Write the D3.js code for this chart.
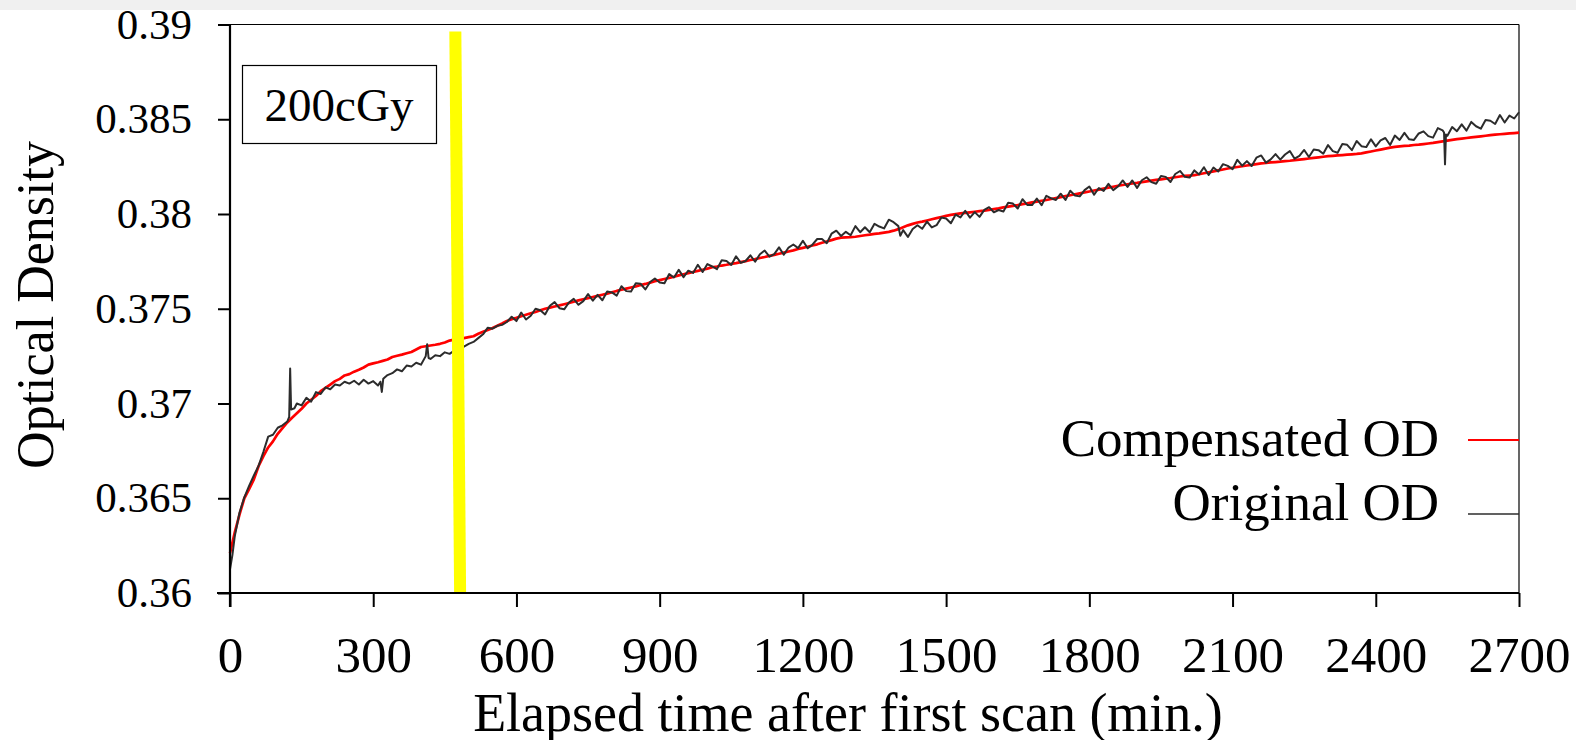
<!DOCTYPE html>
<html>
<head>
<meta charset="utf-8">
<script src="https://cdn.jsdelivr.net/npm/d3@7"></script>
<style>
  html, body { margin: 0; padding: 0; background: #fff; }
  svg { display: block; }
  text { font-family: "Liberation Serif", "Times New Roman", serif; fill: #000; }
</style>
</head>
<body>
<svg id="chart" width="1576" height="740"></svg>
<script>
// ---------------- data ----------------
const xTicks = [0, 300, 600, 900, 1200, 1500, 1800, 2100, 2400, 2700];
const yTicks = [0.36, 0.365, 0.37, 0.375, 0.38, 0.385, 0.39];
const yTickLabels = ["0.36", "0.365", "0.37", "0.375", "0.38", "0.385", "0.39"];
const seriesNames = ["Compensated OD", "Original OD"];
const doseLabel = "200cGy";
const xTitle = "Elapsed time after first scan (min.)";
const yTitle = "Optical Density";

// Compensated OD, one reading every 10 min from 0 to 2700 min
const compensatedStep = 10;
const compensatedOD = [
  .36210,.36320,.36415,.36500,.36548,.36600,.36670,.36722,.36768,.36800,
  .36840,.36870,.36900,.36925,.36948,.36972,.37000,.37020,.37040,.37065,
  .37082,.37100,.37118,.37130,.37148,.37155,.37168,.37178,.37190,.37205,
  .37212,.37218,.37225,.37232,.37245,.37252,.37258,.37265,.37272,.37285,
  .37298,.37302,.37306,.37310,.37315,.37322,.37332,.37338,.37340,.37345,
  .37350,.37355,.37368,.37378,.37388,.37398,.37410,.37422,.37435,.37445,
  .37452,.37460,.37468,.37476,.37483,.37492,.37500,.37506,.37512,.37518,
  .37524,.37530,.37537,.37544,.37550,.37556,.37562,.37568,.37574,.37580,
  .37587,.37594,.37600,.37606,.37612,.37618,.37625,.37631,.37638,.37645,
  .37651,.37657,.37663,.37669,.37676,.37682,.37688,.37694,.37700,.37706,
  .37712,.37719,.37723,.37728,.37732,.37737,.37741,.37746,.37751,.37757,
  .37762,.37768,.37773,.37779,.37784,.37790,.37796,.37802,.37808,.37815,
  .37821,.37827,.37834,.37840,.37848,.37855,.37862,.37870,.37875,.37877,
  .37878,.37880,.37884,.37888,.37891,.37895,.37898,.37902,.37906,.37912,
  .37920,.37930,.37940,.37948,.37955,.37960,.37966,.37972,.37978,.37984,
  .37990,.37995,.37999,.38003,.38006,.38009,.38012,.38015,.38018,.38022,
  .38026,.38030,.38035,.38039,.38043,.38047,.38052,.38056,.38061,.38065,
  .38070,.38074,.38079,.38084,.38089,.38094,.38099,.38104,.38109,.38114,
  .38119,.38124,.38129,.38134,.38139,.38144,.38149,.38153,.38157,.38161,
  .38164,.38168,.38172,.38176,.38180,.38183,.38187,.38190,.38194,.38198,
  .38201,.38203,.38205,.38210,.38215,.38220,.38225,.38230,.38235,.38240,
  .38244,.38248,.38252,.38256,.38259,.38263,.38267,.38269,.38272,.38274,
  .38276,.38279,.38281,.38284,.38287,.38290,.38293,.38296,.38299,.38302,
  .38305,.38307,.38309,.38311,.38313,.38315,.38317,.38320,.38325,.38330,
  .38335,.38340,.38345,.38350,.38354,.38357,.38359,.38361,.38364,.38366,
  .38369,.38372,.38375,.38379,.38383,.38387,.38391,.38395,.38398,.38401,
  .38404,.38407,.38410,.38413,.38416,.38419,.38421,.38423,.38425,.38427,
  .38429
];

// Original OD readings: [elapsed minutes, OD]
const originalOD = [
  [0,.36125],[5,.36200],[10,.36300],[20,.36425],[30,.36505],[40,.36565],[50,.36620],[60,.36672],
  [70,.36745],[80,.36825],[90,.36835],[100,.36872],[110,.36885],[120,.36905],[124,.36930],[126,.37185],
  [128,.36968],[135,.36975],[140,.37000],[150,.36990],[160,.37030],[170,.37010],[180,.37060],[190,.37050],
  [200,.37085],[210,.37075],[220,.37100],[230,.37095],[240,.37115],[250,.37105],[260,.37120],[270,.37100],
  [280,.37125],[290,.37105],[300,.37118],[310,.37095],[315,.37115],[318,.37061],[321,.37130],[330,.37150],
  [340,.37160],[350,.37180],[360,.37170],[370,.37200],[380,.37195],[390,.37215],[400,.37205],[410,.37250],
  [413,.37313],[416,.37240],[420,.37235],[430,.37255],[440,.37250],[450,.37270],[460,.37262],[470,.37280],
  [480,.37285],[490,.37300],[500,.37315],[510,.37325],[520,.37345],[530,.37365],[540,.37400],[550,.37395],
  [560,.37410],[570,.37415],[580,.37430],
  [590,.37458],[600,.37435],[610,.37480],[620,.37443],[630,.37463],[640,.37500],[650,.37492],[660,.37470],
  [670,.37516],[680,.37535],[690,.37503],[700,.37497],[710,.37533],[720,.37552],[730,.37521],[740,.37540],
  [750,.37577],[760,.37543],[770,.37573],[780,.37545],[790,.37591],[800,.37586],[810,.37569],[820,.37619],
  [830,.37593],[840,.37591],[850,.37635],[860,.37632],[870,.37602],[880,.37641],[890,.37660],[900,.37639],
  [910,.37635],[920,.37683],[930,.37665],[940,.37705],[950,.37667],[960,.37701],[970,.37689],[980,.37732],
  [990,.37694],[1000,.37736],[1010,.37723],[1020,.37709],[1030,.37756],[1040,.37752],[1050,.37731],[1060,.37777],
  [1070,.37742],[1080,.37752],[1090,.37782],[1100,.37748],[1110,.37788],[1120,.37807],[1130,.37775],[1140,.37788],
  [1150,.37824],[1160,.37785],[1170,.37823],[1180,.37839],[1190,.37820],[1200,.37859],[1210,.37819],[1220,.37838],
  [1230,.37868],[1240,.37868],[1250,.37846],[1260,.37896],[1270,.37912],[1280,.37884],[1290,.37906],[1300,.37888],
  [1310,.37936],[1320,.37904],[1330,.37930],[1340,.37904],[1350,.37948],[1360,.37934],[1370,.37924],[1380,.37970],
  [1390,.37957],[1400,.37936],[1404,.37885],[1410,.37915],[1420,.37879],[1430,.37921],[1440,.37941],[1450,.37922],
  [1460,.37960],[1470,.37929],[1480,.37941],[1490,.37981],[1500,.37976],[1510,.37951],[1520,.37997],[1530,.37982],
  [1540,.38017],[1550,.37981],[1560,.38010],[1570,.37985],[1580,.38022],[1590,.38036],[1600,.38009],[1610,.38021],
  [1620,.38013],[1630,.38059],[1640,.38055],[1650,.38029],[1660,.38078],[1670,.38048],[1680,.38047],[1690,.38081],
  [1700,.38046],[1710,.38096],[1720,.38083],[1730,.38074],[1740,.38107],[1750,.38074],[1760,.38123],[1770,.38098],
  [1780,.38093],[1790,.38126],[1800,.38145],[1810,.38102],[1820,.38137],[1830,.38122],[1840,.38159],[1850,.38126],
  [1860,.38145],[1870,.38177],[1880,.38143],[1890,.38177],[1900,.38138],[1910,.38178],[1920,.38194],[1930,.38168],
  [1940,.38160],[1950,.38201],[1960,.38196],[1970,.38169],[1980,.38211],[1990,.38227],[2000,.38196],[2010,.38192],
  [2020,.38230],[2030,.38209],[2040,.38247],[2050,.38206],[2060,.38245],[2070,.38224],[2080,.38263],[2090,.38254],
  [2100,.38236],[2110,.38286],[2120,.38255],[2130,.38279],[2140,.38253],[2150,.38297],[2160,.38309],[2170,.38271],
  [2180,.38288],[2190,.38316],[2200,.38287],[2210,.38314],[2220,.38332],[2230,.38292],[2240,.38307],[2250,.38338],
  [2260,.38301],[2270,.38340],[2280,.38337],[2290,.38318],[2300,.38364],[2310,.38332],[2320,.38323],[2330,.38369],
  [2340,.38365],[2350,.38337],[2360,.38385],[2370,.38358],[2380,.38353],[2390,.38394],[2400,.38357],[2410,.38388],
  [2420,.38401],[2430,.38364],[2440,.38414],[2450,.38391],[2460,.38428],[2470,.38394],[2480,.38391],[2490,.38425],
  [2500,.38436],[2510,.38411],[2520,.38403],[2530,.38453],[2540,.38441],[2543,.38430],[2545,.38262],[2547,.38420],
  [2550,.38413],[2560,.38459],[2570,.38437],[2580,.38473],[2590,.38440],[2600,.38486],[2610,.38463],[2620,.38450],
  [2630,.38496],[2640,.38492],[2650,.38475],[2660,.38522],[2670,.38483],[2680,.38519],[2690,.38504],[2700,.38537]
];

// yellow marker bar (minutes at top / bottom, OD at its top end)
const markerTimes = [472, 482];
const markerTopOD = 0.38963;

// ---------------- drawing ----------------
const svg = d3.select("#chart");
const x = d3.scaleLinear().domain([0, 2700]).range([230, 1519]);
const y = d3.scaleLinear().domain([0.36, 0.39]).range([593, 24.5]);

// plot frame (top, right)
svg.append("line").attr("x1", x(0)).attr("x2", x(2700)).attr("y1", y(0.39)).attr("y2", y(0.39))
  .attr("stroke", "#000").attr("stroke-width", 1.2);
svg.append("line").attr("x1", x(2700)).attr("x2", x(2700)).attr("y1", y(0.39)).attr("y2", y(0.36))
  .attr("stroke", "#000").attr("stroke-width", 1.2);

// series lines
const compData = compensatedOD.map((v, i) => [i * compensatedStep, v]);
const line = d3.line().x(d => x(d[0])).y(d => y(d[1]));
svg.append("path").datum(compData).attr("d", line)
  .attr("fill", "none").attr("stroke", "#ff0000").attr("stroke-width", 2.7).attr("stroke-linejoin", "round");
svg.append("path").datum(originalOD).attr("d", line)
  .attr("fill", "none").attr("stroke", "#2c2c2c").attr("stroke-width", 2).attr("stroke-linejoin", "round");

// yellow marker
svg.append("line")
  .attr("x1", x(markerTimes[0])).attr("y1", y(markerTopOD))
  .attr("x2", x(markerTimes[1])).attr("y2", y(0.36))
  .attr("stroke", "#ffff00").attr("stroke-width", 12);

// axes
const xAxis = d3.axisBottom(x).tickValues(xTicks).tickSize(14).tickFormat(d3.format("d"));
const gx = svg.append("g").attr("transform", `translate(0,${y(0.36)})`).call(xAxis);
gx.select(".domain").attr("stroke", "#000").attr("stroke-width", 2.2).attr("d", `M${x(0) - 13},0H${x(2700)}`);
gx.selectAll(".tick line").attr("stroke", "#000").attr("stroke-width", 2);
gx.selectAll(".tick text").attr("y", 79).attr("dy", null)
  .style("font-family", '"Liberation Serif", "Times New Roman", serif').style("font-size", "51px").attr("fill", "#000");

const yAxis = d3.axisLeft(y).tickValues(yTicks).tickSize(12).tickFormat((d, i) => yTickLabels[i]);
const gy = svg.append("g").attr("transform", `translate(${x(0)},0)`).call(yAxis);
gy.select(".domain").attr("stroke", "#000").attr("stroke-width", 2.2).attr("d", `M0,${y(0.39)}V${y(0.36) + 14}`);
gy.selectAll(".tick line").attr("stroke", "#000").attr("stroke-width", 2);
gy.selectAll(".tick text").attr("x", -38).attr("dy", null).attr("y", 13.5)
  .style("font-family", '"Liberation Serif", "Times New Roman", serif').style("font-size", "43px").attr("fill", "#000");

// axis titles
svg.append("text").attr("x", 848).attr("y", 731).attr("text-anchor", "middle")
  .style("font-size", "54px").text(xTitle);
svg.append("text").attr("transform", "translate(53,305) rotate(-90)").attr("text-anchor", "middle")
  .style("font-size", "52px").text(yTitle);

// dose label box
svg.append("rect").attr("x", 242.5).attr("y", 65.5).attr("width", 194).attr("height", 78)
  .attr("fill", "#fff").attr("stroke", "#000").attr("stroke-width", 1.2);
svg.append("text").attr("x", 339).attr("y", 121).attr("text-anchor", "middle")
  .style("font-size", "47px").text(doseLabel);

// legend
const legendColors = ["#ff0000", "#2c2c2c"];
const legendTextY = [456, 520];
const legendLineY = [440, 514];
seriesNames.forEach((name, i) => {
  svg.append("text").attr("x", 1439).attr("y", legendTextY[i]).attr("text-anchor", "end")
    .style("font-size", "53px").text(name);
  svg.append("line").attr("x1", 1468).attr("x2", x(2700)).attr("y1", legendLineY[i]).attr("y2", legendLineY[i])
    .attr("stroke", legendColors[i]).attr("stroke-width", i === 0 ? 2.2 : 1.7);
});

// top grey band
svg.append("rect").attr("x", 0).attr("y", 0).attr("width", 1576).attr("height", 10).attr("fill", "#f0f0f0");
</script>
</body>
</html>
